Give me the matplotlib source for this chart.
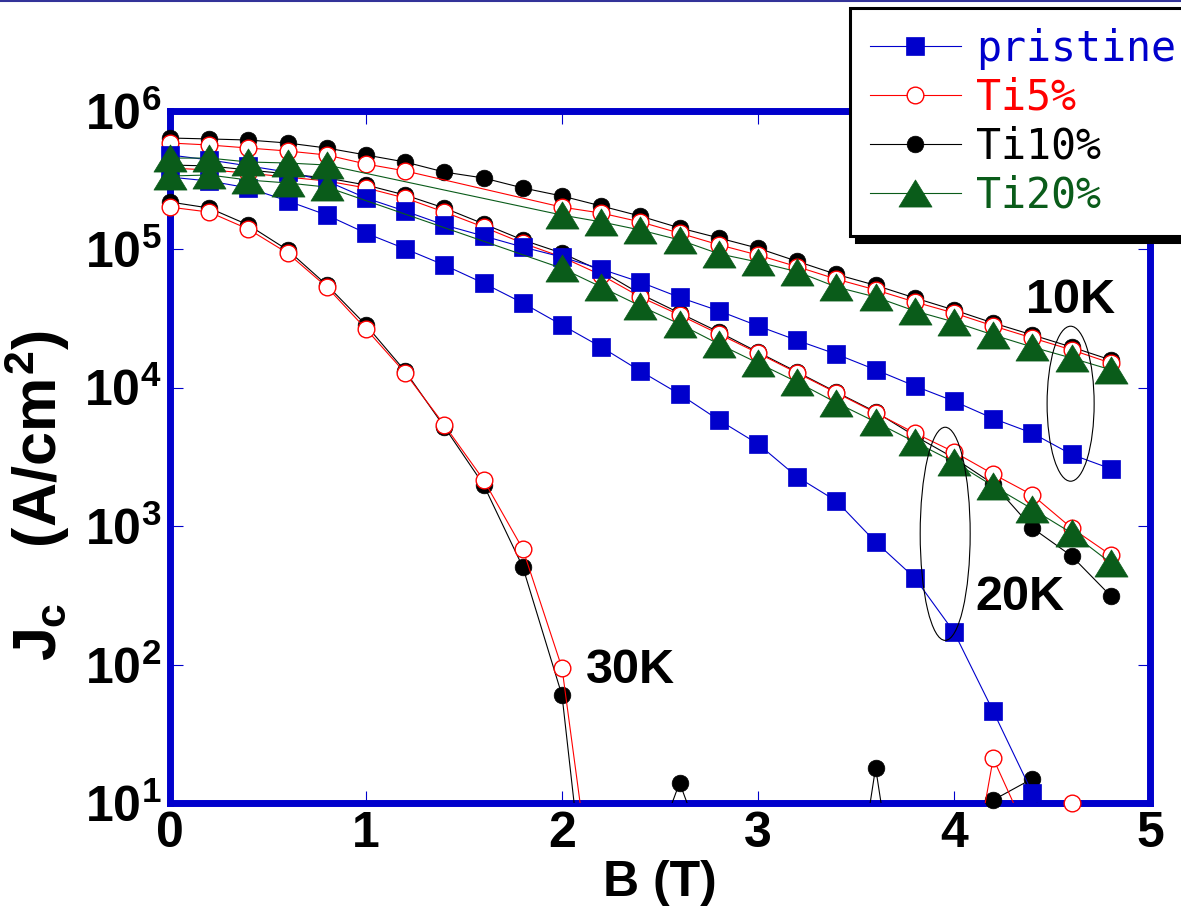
import matplotlib
matplotlib.use('Agg')
import matplotlib.pyplot as plt
import matplotlib.ticker as mticker
from matplotlib.lines import Line2D
from matplotlib.patches import Ellipse
from matplotlib.path import Path
from matplotlib import font_manager as fm
import numpy as np

# ─── fonts ───
have = {f.name for f in fm.fontManager.ttflist}
NARROW = 'Liberation Sans Narrow' if 'Liberation Sans Narrow' in have else 'Liberation Sans'
MONO = 'DejaVu Sans Mono'
plt.rcParams['font.family'] = [NARROW, 'DejaVu Sans']
plt.rcParams['font.weight'] = 'bold'
plt.rcParams['mathtext.fontset'] = 'custom'
plt.rcParams['mathtext.rm'] = NARROW + ':bold'
plt.rcParams['mathtext.it'] = NARROW + ':bold'
plt.rcParams['mathtext.bf'] = NARROW + ':bold'

# ─── data (B in T, Jc in A/cm^2) ───
B = [0.0, 0.2, 0.4, 0.6, 0.8, 1.0, 1.2, 1.4, 1.6, 1.8, 2.0, 2.2, 2.4,
     2.6, 2.8, 3.0, 3.2, 3.4, 3.6, 3.8, 4.0, 4.2, 4.4, 4.6, 4.8]
B_gap = [0.0, 0.2, 0.4, 0.6, 0.8, 2.0, 2.2, 2.4, 2.6, 2.8, 3.0, 3.2,
         3.4, 3.6, 3.8, 4.0, 4.2, 4.4, 4.6, 4.8]
B_ti5_10k = [0.0, 0.2, 0.4, 0.6, 0.8, 1.0, 1.2, 2.0, 2.2, 2.4, 2.6, 2.8,
             3.0, 3.2, 3.4, 3.6, 3.8, 4.0, 4.2, 4.4, 4.6, 4.8]
B_pr_20k = B[:23]

pristine_10k = [4.81e5, 4.43e5, 4.01e5, 3.62e5, 3.12e5, 2.35e5, 1.89e5, 1.50e5,
                1.25e5, 1.04e5, 8.8e4, 7.2e4, 5.8e4, 4.5e4, 3.6e4, 2.8e4, 2.2e4,
                1.75e4, 1.35e4, 1.03e4, 8.0e3, 6.0e3, 4.7e3, 3.3e3, 2.6e3]
pristine_20k = [3.33e5, 3.12e5, 2.78e5, 2.24e5, 1.77e5, 1.31e5, 1.01e5, 7.7e4,
                5.7e4, 4.1e4, 2.84e4, 1.97e4, 1.32e4, 9.0e3, 5.85e3, 3.93e3,
                2.27e3, 1.52e3, 769, 423, 172, 46, 11.8]

ti5_10k = [5.87e5, 5.68e5, 5.40e5, 5.14e5, 4.81e5, 4.14e5, 3.69e5, 2.02e5,
           1.83e5, 1.58e5, 1.31e5, 1.08e5, 9.1e4, 7.5e4, 6.1e4, 5.1e4, 4.17e4,
           3.47e4, 2.80e4, 2.29e4, 1.88e4, 1.51e4]
ti5_20k = [3.87e5, 3.75e5, 3.56e5, 3.33e5, 3.12e5, 2.78e5, 2.35e5, 1.86e5,
           1.45e5, 1.11e5, 8.8e4, 6.53e4, 4.53e4, 3.36e4, 2.45e4, 1.78e4,
           1.28e4, 9.2e3, 6.6e3, 4.71e3, 3.44e3, 2.38e3, 1.68e3, 970, 619]
ti5_30k = [2.02e5, 1.86e5, 1.40e5, 9.4e4, 5.35e4, 2.66e4, 1.28e4, 5.38e3,
           2.16e3, 684, 94.5, 0.73, 0.5, 0.5, 0.5, 0.5, 0.5, 0.5, 0.5, 0.5,
           0.55, 21, 5, 10, 0.5]

ti10_10k = [6.38e5, 6.28e5, 6.17e5, 5.87e5, 5.40e5, 4.81e5, 4.28e5, 3.62e5,
            3.28e5, 2.78e5, 2.43e5, 2.06e5, 1.74e5, 1.43e5, 1.21e5, 1.02e5,
            8.2e4, 6.6e4, 5.5e4, 4.46e4, 3.65e4, 2.94e4, 2.41e4, 1.97e4, 1.59e4]
ti10_20k = [4.07e5, 4.01e5, 3.75e5, 3.51e5, 3.28e5, 2.92e5, 2.47e5, 1.99e5,
            1.53e5, 1.17e5, 9.4e4, 6.98e4, 4.76e4, 3.47e4, 2.53e4, 1.81e4,
            1.30e4, 9.3e3, 6.7e3, 4.49e3, 3.11e3, 2.02e3, 970, 609, 313]
ti10_30k = [2.20e5, 1.99e5, 1.50e5, 9.9e4, 5.53e4, 2.84e4, 1.32e4, 5.21e3,
            1.99e3, 507, 60, 0.18, 2.4, 14, 2.4, 0.3, 0.3, 0.26, 18, 0.26,
            0.3, 10.5, 15, 0.5, 0.3]

ti20_10k = [4.57e5, 4.57e5, 4.28e5, 4.21e5, 4.07e5, 1.77e5, 1.58e5, 1.38e5,
            1.17e5, 9.3e4, 8.1e4, 6.9e4, 5.35e4, 4.53e4, 3.59e4, 2.99e4,
            2.41e4, 1.97e4, 1.64e4, 1.35e4]
ti20_20k = [3.39e5, 3.45e5, 3.17e5, 3.02e5, 2.82e5, 7.3e4, 5.35e4, 3.9e4,
            2.89e4, 2.07e4, 1.51e4, 1.10e4, 7.8e3, 5.66e3, 4.06e3, 2.91e3,
            1.95e3, 1.33e3, 893, 542]

samples = ['pristine', 'Ti5%', 'Ti10%', 'Ti20%']
series = {
    'pristine': [(B, pristine_10k), (B_pr_20k, pristine_20k)],
    'Ti5%':     [(B_ti5_10k, ti5_10k), (B, ti5_20k), (B, ti5_30k)],
    'Ti10%':    [(B, ti10_10k), (B, ti10_20k), (B, ti10_30k)],
    'Ti20%':    [(B_gap, ti20_10k), (B_gap, ti20_20k)],
}

# ─── styles ───
BLUE = '#0000cc'
GREEN = '#0a5c1a'
tri = Path([(0, 0.82), (-1, -0.82), (1, -0.82), (0, 0.82)],
           [Path.MOVETO, Path.LINETO, Path.LINETO, Path.CLOSEPOLY])
style = {
    'pristine': dict(color=BLUE, marker='s', ms=12.5, mfc=BLUE, mec=BLUE, mew=0.5),
    'Ti5%':     dict(color='#ff0000', marker='o', ms=12, mfc='white', mec='#ff0000', mew=1),
    'Ti10%':    dict(color='black', marker='o', ms=12, mfc='black', mec='black', mew=0.5),
    'Ti20%':    dict(color=GREEN, marker=tri, ms=23.8, mfc=GREEN, mec=GREEN, mew=0.5),
}
zbase = {'Ti10%': 3.0, 'Ti5%': 3.2, 'pristine': 3.4, 'Ti20%': 3.6}

YMIN, YMAX = 10, 1e6

fig = plt.figure(figsize=(11.81, 9.15), dpi=100)
fig.patch.set_facecolor('white')
ax = fig.add_axes([170/1181, 112/915, 980/1181, 692/915])

for name in samples:
    st = style[name]
    for xs, ys in series[name]:
        xs = np.asarray(xs); ys = np.asarray(ys, dtype=float)
        ax.plot(xs, ys, '-', color=st['color'], lw=0.8, zorder=zbase[name])
        m = (ys >= YMIN) & (ys <= YMAX)
        ax.plot(xs[m], ys[m], linestyle='none', marker=st['marker'], ms=st['ms'],
                mfc=st['mfc'], mec=st['mec'], mew=st['mew'],
                zorder=zbase[name] + 0.1, clip_on=False)

ax.set_yscale('log')
ax.set_xlim(0, 5)
ax.set_ylim(YMIN, YMAX)
ax.xaxis.set_major_locator(mticker.MultipleLocator(1))
ax.yaxis.set_major_locator(mticker.LogLocator(base=10, numticks=10))
ax.yaxis.set_minor_locator(mticker.NullLocator())
ax.xaxis.set_minor_locator(mticker.NullLocator())
ax.yaxis.set_major_formatter(mticker.FuncFormatter(
    lambda v, p: r'$10^{%d}$' % int(round(np.log10(v)))))
ax.tick_params(which='major', direction='in', length=9, width=0.8,
               color=BLUE, top=True, right=True, labelsize=36, pad=6)
for lab in ax.get_xticklabels() + ax.get_yticklabels():
    lab.set_fontweight('bold')
for s in ax.spines.values():
    s.set_color(BLUE)
    s.set_linewidth(5)

ax.set_xlabel('B (T)', fontsize=36, fontweight='bold', labelpad=2)
ax.set_ylabel(r'$J_c\quad(A/cm^2)$', fontsize=44)
ax.yaxis.set_label_coords(-0.10, 0.445)

# temperature labels and ellipses
ax.text(4.597, 4.3e4, '10K', fontsize=35, fontweight='bold', ha='center', va='center')
ax.text(4.337, 303, '20K', fontsize=35, fontweight='bold', ha='center', va='center')
ax.text(2.347, 91, '30K', fontsize=35, fontweight='bold', ha='center', va='center')
ax.add_patch(Ellipse((0.919, 0.577), 0.048, 0.224, transform=ax.transAxes,
                     fill=False, ec='black', lw=0.8, zorder=5))
ax.add_patch(Ellipse((0.791, 0.389), 0.051, 0.308, transform=ax.transAxes,
                     fill=False, ec='black', lw=0.8, zorder=5))

# legend
handles = [Line2D([], [], color=style[n]['color'], lw=0.8, marker=style[n]['marker'],
                  ms=style[n]['ms'], mfc=style[n]['mfc'], mec=style[n]['mec'],
                  mew=style[n]['mew']) for n in samples]
leg = fig.legend(handles, samples, loc='upper left',
                 bbox_to_anchor=(850/1181, 1 - 8/915), borderaxespad=0,
                 prop={'family': MONO, 'size': 30, 'weight': 'normal'},
                 labelcolor=[BLUE, '#ff0000', 'black', GREEN],
                 frameon=True, fancybox=False, edgecolor='black', framealpha=1,
                 shadow={'color': 'black', 'alpha': 1, 'ox': 4, 'oy': -4},
                 handlelength=2.2, handletextpad=0.35, labelspacing=0.17,
                 borderpad=0.47)
leg.get_frame().set_linewidth(2.2)

# thin border line at the top of the slide
fig.add_artist(Line2D([0, 1], [0.9985, 0.9985], transform=fig.transFigure,
                      color='#333399', lw=1.5))

fig.savefig('out.png', dpi=100, facecolor='white')
